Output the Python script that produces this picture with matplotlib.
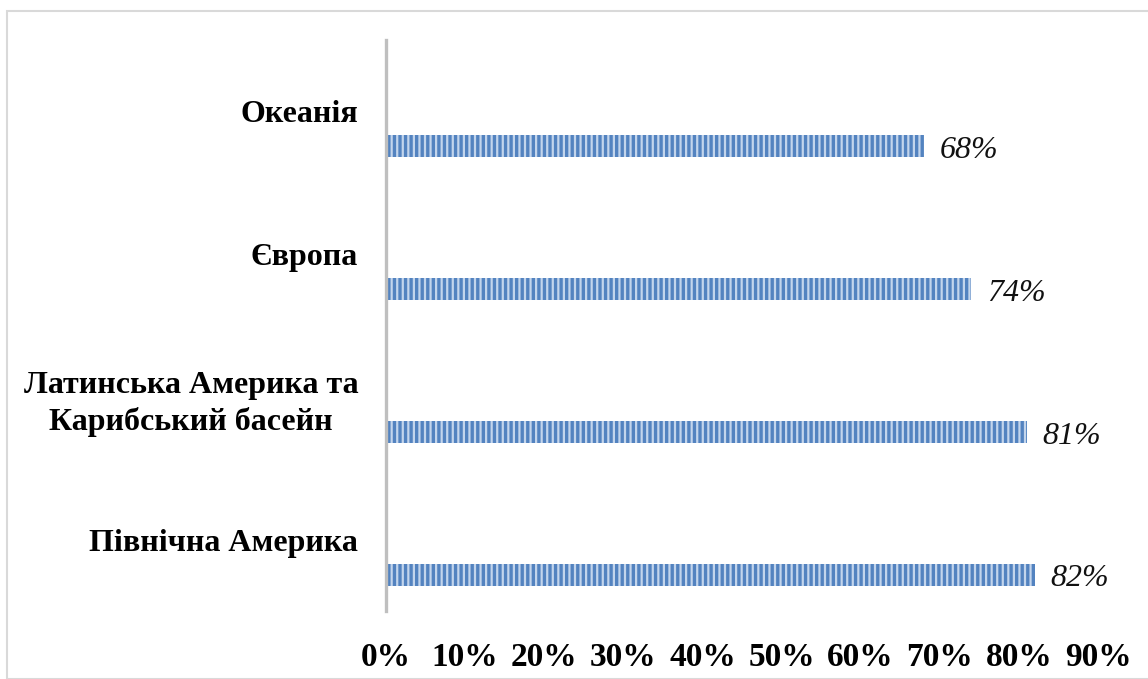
import matplotlib
matplotlib.use("Agg")
import matplotlib.pyplot as plt
from matplotlib.patches import Rectangle

categories = ["Північна Америка", "Латинська Америка та\nКарибський басейн", "Європа", "Океанія"]
values = [0.82, 0.81, 0.74, 0.68]
xticks = [0, 0.1, 0.2, 0.3, 0.4, 0.5, 0.6, 0.7, 0.8, 0.9]
xtick_labels = ["0%", "10%", "20%", "30%", "40%", "50%", "60%", "70%", "80%", "90%"]

plt.rcParams['font.family'] = ['Liberation Serif', 'DejaVu Serif']
plt.rcParams['hatch.linewidth'] = 1.6

W, H = 1148, 679
fig = plt.figure(figsize=(W/100, H/100), dpi=100)
ax = fig.add_axes([386/W, 1-611/H, (1098-386)/W, (611-40)/H])

ypos = list(range(len(categories)))
bar_y = [y - 0.245 for y in ypos]
ax.barh(bar_y, values, height=0.155, color='#5383c0', edgecolor='#c3d5ec',
        linewidth=0, hatch='|||')

for y, v in zip(bar_y, values):
    ax.annotate(f"{round(v*100)}%", (v, y), xytext=(11, -3), textcoords='offset points',
                ha='left', va='center', fontsize=23, fontstyle='italic', color='#111111')

ax.set_xlim(0, 0.9)
ax.set_ylim(-0.5, 3.5)
ax.set_xticks(xticks)
ax.set_xticklabels(xtick_labels, fontsize=24, fontweight='bold')
ax.set_yticks(ypos)
ax.set_yticklabels(categories, fontsize=23, fontweight='bold', multialignment='center',
                   linespacing=1.32)
ax.tick_params(axis='x', length=0, pad=22)
ax.tick_params(axis='y', length=0, pad=20)
for s in ['top', 'right', 'bottom']:
    ax.spines[s].set_visible(False)
ax.spines['left'].set_color('#bfbfbf')
ax.spines['left'].set_linewidth(2.4)

fig.patches.append(Rectangle((7/W, 0), 1.0, 1-11/H, transform=fig.transFigure,
                             fill=False, edgecolor='#d9d9d9', linewidth=1.5))

fig.savefig("out.png", dpi=100)
